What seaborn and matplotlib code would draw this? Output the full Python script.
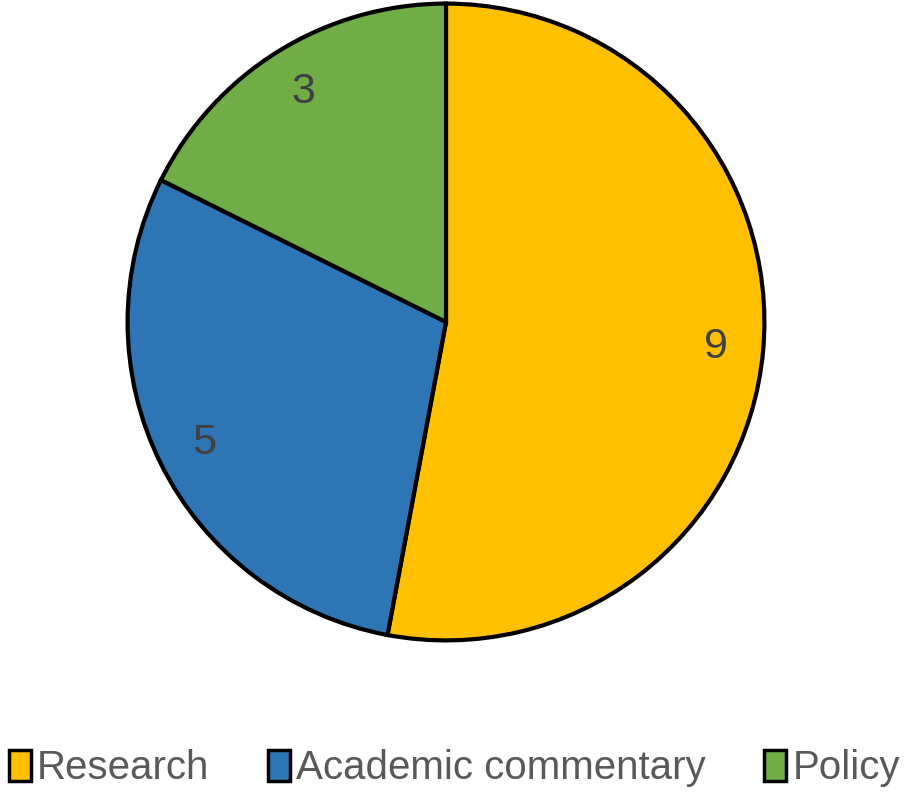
import matplotlib
matplotlib.use("Agg")
import matplotlib.pyplot as plt
import seaborn as sns
from matplotlib.patches import Patch

# data
categories = ["Research", "Academic commentary", "Policy"]
counts = [9, 5, 3]
colors = ["#FFC000", "#2E75B6", "#70AD47"]

sns.set_theme(style="white")
plt.rcParams["font.family"] = ["Liberation Sans", "DejaVu Sans"]

fig = plt.figure(figsize=(9.05, 7.92), dpi=100)
ax = fig.add_axes([126 / 905, 150 / 792, 640 / 905, 640 / 792])

wedges, texts, autotexts = ax.pie(
    counts,
    colors=colors,
    startangle=90,
    counterclock=False,
    autopct=lambda p: f"{round(p * sum(counts) / 100):d}",
    pctdistance=0.85,
    wedgeprops=dict(edgecolor="black", linewidth=3),
    textprops=dict(color="#404040", fontsize=31),
)
ax.set_xlim(-1.005, 1.005)
ax.set_ylim(-1.005, 1.005)
ax.set_aspect("equal")

handles = [Patch(facecolor=c, edgecolor="black", linewidth=2.5) for c in colors]
fig.legend(handles, categories, loc="lower center", bbox_to_anchor=(0.502, -0.04),
           ncol=3, frameon=False, fontsize=29, labelcolor="#595959",
           handlelength=0.55, handleheight=0.8, handletextpad=0.15, columnspacing=1.45)

fig.savefig("out.png", dpi=100, facecolor="white")
